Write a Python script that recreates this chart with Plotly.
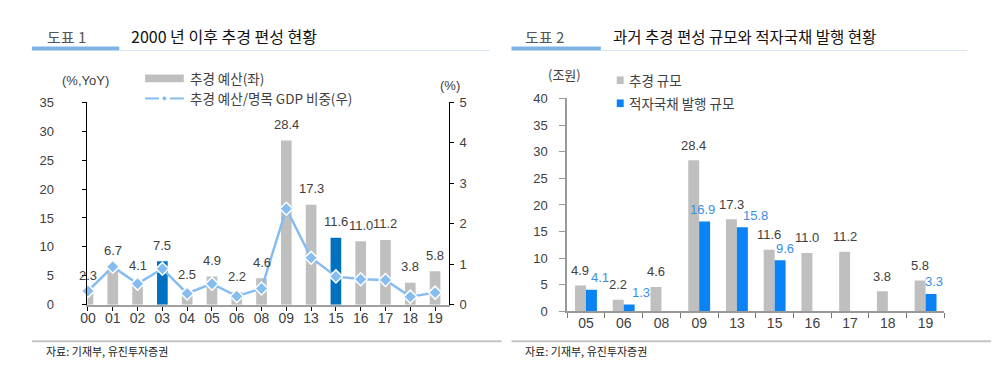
import plotly.graph_objects as go

# ---- data: chart 1 ----
years1 = ["00", "01", "02", "03", "04", "05", "06", "08", "09", "13", "15", "16", "17", "18", "19"]
budget1 = [2.3, 6.7, 4.1, 7.5, 2.5, 4.9, 2.2, 4.6, 28.4, 17.3, 11.6, 11.0, 11.2, 3.8, 5.8]
gdp_ratio = [0.34, 0.94, 0.52, 0.89, 0.28, 0.52, 0.21, 0.40, 2.37, 1.16, 0.70, 0.63, 0.61, 0.20, 0.30]
highlight = ["03", "15"]

# ---- data: chart 2 ----
years2 = ["05", "06", "08", "09", "13", "15", "16", "17", "18", "19"]
supp2 = [4.9, 2.2, 4.6, 28.4, 17.3, 11.6, 11.0, 11.2, 3.8, 5.8]
deficit2 = [4.1, 1.3, None, 16.9, 15.8, 9.6, None, None, None, 3.3]

# label nudges (px) for the blue value labels, as placed in the original
blue_label_nudge = {"05": 9, "06": 12, "09": -2, "13": 13, "15": 5, "19": 3}

FONT = "Liberation Sans, Arial, Noto Sans CJK KR"
KFONT = "Noto Sans CJK KR, Liberation Sans"
GRAY = "#bfbfbf"
DARKBLUE = "#0070c0"
BRIGHTBLUE = "#0a84f5"
LINEBLUE = "#86bdf0"
TXT = "#404040"

fig = go.Figure()

bar_colors = [DARKBLUE if y in highlight else GRAY for y in years1]
fig.add_trace(go.Bar(x=years1, y=budget1, marker=dict(color=bar_colors, line=dict(width=0)),
                     width=0.43, offset=-0.215, xaxis="x", yaxis="y", showlegend=False))
fig.add_trace(go.Scatter(x=years1, y=gdp_ratio, mode="lines+markers", xaxis="x", yaxis="y2",
                         line=dict(color=LINEBLUE, width=2.5),
                         marker=dict(symbol="diamond", size=10, color=LINEBLUE,
                                     line=dict(color="white", width=1.5)),
                         cliponaxis=False, showlegend=False))

fig.add_trace(go.Bar(x=years2, y=supp2, marker=dict(color=GRAY, line=dict(width=0)),
                     width=0.29, offset=-0.29, xaxis="x3", yaxis="y3", showlegend=False))
fig.add_trace(go.Bar(x=years2, y=deficit2, marker=dict(color=BRIGHTBLUE, line=dict(width=0)),
                     width=0.29, offset=0.0, xaxis="x3", yaxis="y3", showlegend=False))

annotations = []
# on category axes a numeric x is the category index
for i, v in enumerate(budget1):
    annotations.append(dict(x=i, y=v, xref="x", yref="y", text=f"{v:.1f}", showarrow=False,
                            yanchor="middle", yshift=16, font=dict(family=FONT, size=13, color=TXT)))
for i, v in enumerate(supp2):
    annotations.append(dict(x=i, y=v, xref="x3", yref="y3", text=f"{v:.1f}", showarrow=False,
                            yanchor="middle", xshift=-5.5, yshift=15,
                            font=dict(family=FONT, size=13, color=TXT)))
for i, v in enumerate(deficit2):
    if v is None:
        continue
    annotations.append(dict(x=i, y=v, xref="x3", yref="y3", text=f"{v:.1f}", showarrow=False,
                            yanchor="middle", xshift=5.5 + blue_label_nudge.get(years2[i], 8), yshift=12,
                            font=dict(family=FONT, size=13, color="#3a8ee6")))

def pa(x, y, text, size, color, xanchor="left", family=KFONT):
    annotations.append(dict(x=x / 1000, y=1 - y / 370, xref="paper", yref="paper", text=text,
                            showarrow=False, xanchor=xanchor, yanchor="middle",
                            font=dict(family=family, size=size, color=color)))

# titles
pa(30, 22, "도표 1", 15, "#555555")
pa(115, 22, "2000 년 이후 추경 편성 현황", 16, "#111111")
pa(512, 22, "도표 2", 15, "#555555")
pa(600, 22, "과거 추경 편성 규모와 적자국채 발행 현황", 15.5, "#111111")
# axis titles
pa(45, 68, "(%,YoY)", 13, TXT, family=FONT)
pa(438, 73, "(%)", 13, TXT, xanchor="center", family=FONT)
pa(535, 62, "(조원)", 13, TXT)
# legends
pa(174, 66, "추경 예산(좌)", 13.5, TXT)
pa(174, 87, "추경 예산/명목 GDP 비중(우)", 13.5, TXT)
pa(616, 68, "추경 규모", 13.5, TXT)
pa(616, 92, "적자국채 발행 규모", 13.5, TXT)
# footers
pa(29, 350, "자료: 기재부, 유진투자증권", 11, "#222222")
pa(512, 350, "자료: 기재부, 유진투자증권", 11, "#222222")

def px(x):
    return x / 1000

def py(y):
    return 1 - y / 370

shapes = []
def line(x0, y0, x1, y1, color, width):
    shapes.append(dict(type="line", xref="paper", yref="paper", x0=px(x0), y0=py(y0), x1=px(x1), y1=py(y1),
                       line=dict(color=color, width=width)))

def rect(x0, y0, x1, y1, color):
    shapes.append(dict(type="rect", xref="paper", yref="paper", x0=px(x0), y0=py(y0), x1=px(x1), y1=py(y1),
                       line=dict(width=0), fillcolor=color))

# title underlines
line(105, 37, 478, 37, "#d6e6f6", 1.2)
line(17, 35, 105, 35, "#7fb3e6", 4)
line(590, 37, 959, 37, "#d6e6f6", 1.2)
line(500, 35, 590, 35, "#7fb3e6", 4)
# footer lines
line(17, 340, 490, 340, "#c4c4c4", 2)
line(500, 340, 983, 340, "#c4c4c4", 2)
# legend symbols
rect(131, 62, 170, 70, GRAY)
line(131, 87, 145, 87, LINEBLUE, 2)
line(156, 87, 170, 87, LINEBLUE, 2)
shapes.append(dict(type="path", xref="paper", yref="paper",
                   path=f"M {px(150.5)},{py(84.5)} L {px(153)},{py(87)} L {px(150.5)},{py(89.5)} L {px(148)},{py(87)} Z",
                   fillcolor=LINEBLUE, line=dict(width=0)))
rect(606, 64, 613, 72, GRAY)
rect(606, 88, 613, 96, BRIGHTBLUE)

tickfont = dict(family=FONT, size=13, color=TXT)

fig.update_layout(
    width=1000, height=370, margin=dict(l=0, r=0, t=0, b=0),
    paper_bgcolor="white", plot_bgcolor="white",
    showlegend=False,
    annotations=annotations, shapes=shapes,
    xaxis=dict(domain=[0.073, 0.437], type="category", range=[-0.02, 14.56], anchor="y",
               showline=True, linecolor="#a0a0a0", linewidth=1.5, ticks="outside", ticklen=4,
               tickcolor="#000000", showgrid=False, zeroline=False,
               tickfont=dict(family=FONT, size=14, color=TXT), ticklabelstandoff=-4),
    yaxis=dict(domain=[1 - 302 / 370, 1 - 91 / 370], range=[0, 35], dtick=5, anchor="x",
               showline=True, linecolor="#000000", linewidth=1, ticks="outside", ticklen=4,
               tickcolor="#000000", showgrid=False, zeroline=False, tickfont=tickfont,
               ticklabelstandoff=26),
    yaxis2=dict(domain=[1 - 302 / 370, 1 - 91 / 370], range=[0, 5], dtick=1, overlaying="y",
                side="right", anchor="x", showline=True, linecolor="#000000", linewidth=1,
                ticks="outside", ticklen=4, tickcolor="#000000", showgrid=False, zeroline=False,
                tickfont=tickfont, ticklabelstandoff=3),
    xaxis3=dict(domain=[0.556, 0.936], type="category", range=[-0.5, 9.5], anchor="y3",
                showline=True, linecolor="#999999", linewidth=1.5, ticks="outside", ticklen=5,
                tickson="boundaries", tickcolor="#777777", showgrid=False, zeroline=False,
                tickfont=dict(family=FONT, size=14, color=TXT), ticklabelstandoff=-2),
    yaxis3=dict(domain=[1 - 309 / 370, 1 - 87 / 370], range=[0, 40], dtick=5, anchor="x3",
                showline=True, linecolor="#999999", linewidth=1.5, ticks="outside", ticklen=6,
                tickcolor="#999999", showgrid=False, zeroline=False, tickfont=tickfont,
                ticklabelstandoff=9),
)

fig.write_html("out.html")
